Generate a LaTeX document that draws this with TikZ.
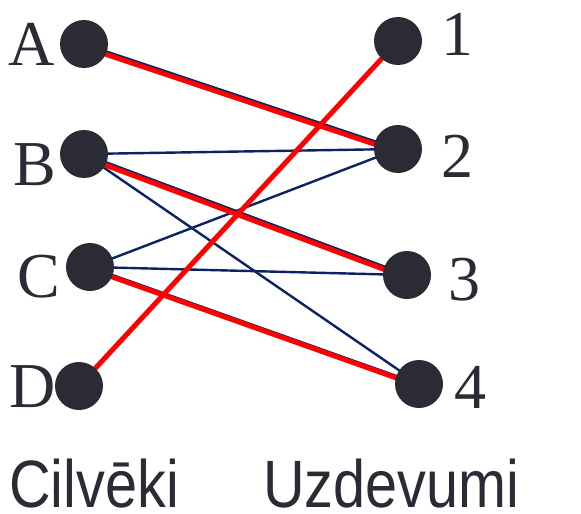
\documentclass[tikz,border=0pt]{standalone}
\usepackage{fontspec}
\setmainfont{Liberation Serif}
\newfontfamily\capfont[FakeStretch=0.86]{Liberation Sans}
\usepackage{xcolor}
\usetikzlibrary{positioning,backgrounds}

\definecolor{dotgray}{HTML}{2B2B35}
\definecolor{linknavy}{HTML}{0B2263}

\begin{document}
\begin{tikzpicture}[
  x=1pt, y=-1pt,
  dot/.style={circle, fill=dotgray, minimum size=48pt, inner sep=0pt},
  lab/.style={font=\fontsize{64}{64}\selectfont, text=dotgray, inner sep=0pt, anchor=base},
  caption/.style={font=\capfont\fontsize{67}{67}\selectfont, text=dotgray, inner sep=0pt, anchor=base west},
  link/.style={linknavy, line width=2.4pt},
  pick/.style={red, line width=5pt},
]
\useasboundingbox (0,0) rectangle (581,514);

%% -- people (left column) ---------------------------------------------------
\node[dot] (A) at (84,44)  {};
\node[dot] (B) at (84,154) {};
\node[dot] (C) at (90,267) {};
\node[dot] (D) at (79,386) {};
\node[lab] (labA) at (32,65)  {A};
\node[lab] (labB) at (35,185) {B};
\node[lab] (labC) at (39,297) {C};
\node[lab] (labD) at (33,407) {D};

%% -- tasks (right column) ---------------------------------------------------
\node[dot] (t1) at (398,41)  {};
\node[dot] (t2) at (398,149) {};
\node[dot] (t3) at (407,275) {};
\node[dot] (t4) at (419,384) {};
\node[lab] (lab1) at (457,55)  {1};
\node[lab] (lab2) at (457,177) {2};
\node[lab] (lab3) at (464,300) {3};
\node[lab] (lab4) at (470,408) {4};

%% -- column captions --------------------------------------------------------
\node[caption] (people) at (9,507)   {Cilvēki};
\node[caption] (tasks)  at (263,507) {Uzdevumi};

%% -- edges behind the dots: all pairs, then the chosen ones in red ----------
\begin{scope}[on background layer]
  \draw[link] (A.center) -- (t2.center);
  \draw[link] (B.center) -- (t2.center);
  \draw[link] (B.center) -- (t3.center);
  \draw[link] (B.center) -- (t4.center);
  \draw[link] (C.center) -- (t2.center);
  \draw[link] (C.center) -- (t3.center);
  \draw[link] (C.center) -- (t4.center);
  \draw[pick] ([yshift=-3pt]A.center) -- ([yshift=-3pt]t2.center);
  \draw[pick] ([yshift=-3pt]B.center) -- ([yshift=-3pt]t3.center);
  \draw[pick] ([yshift=-2pt]C.center) -- ([yshift=-2pt]t4.center);
  \draw[pick] (D.center) -- (t1.center);
\end{scope}
\end{tikzpicture}
\end{document}
